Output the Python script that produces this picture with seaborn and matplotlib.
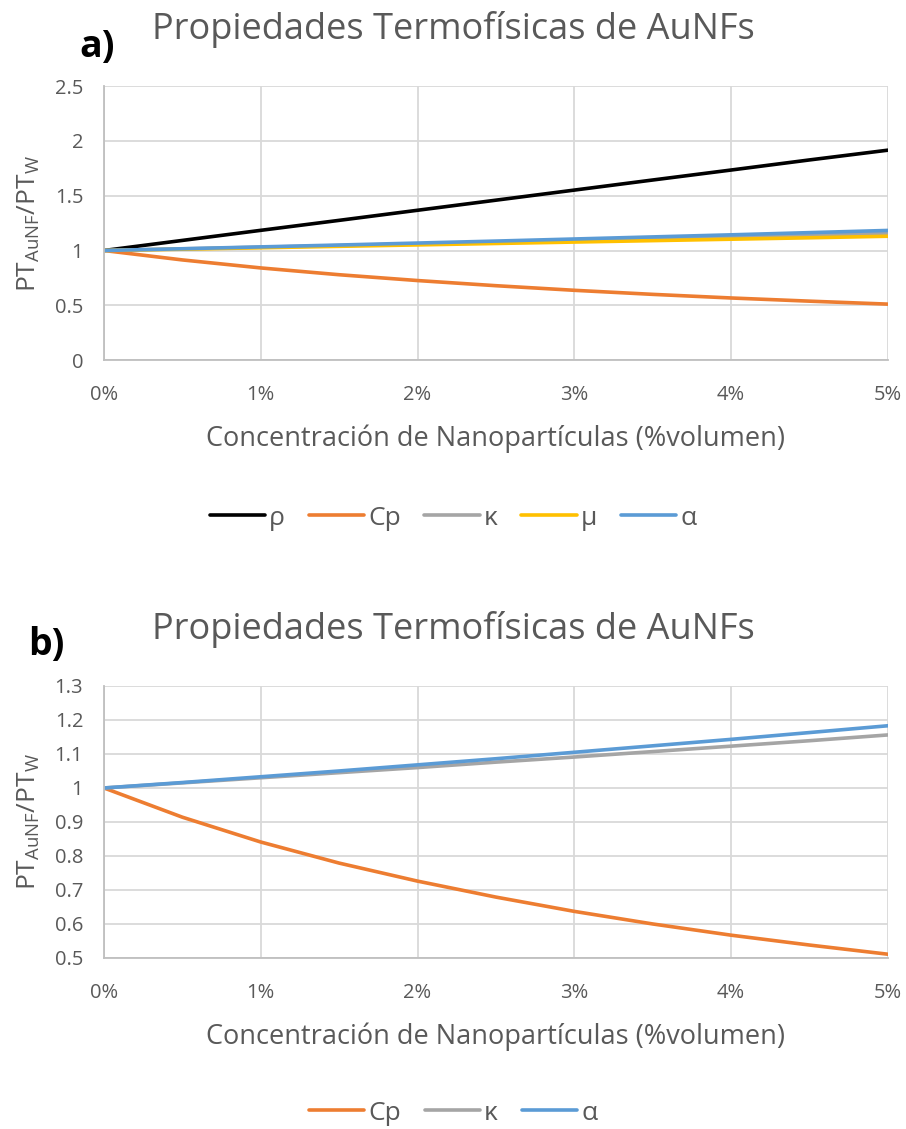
import numpy as np
import pandas as pd
from matplotlib import pyplot as plt
from matplotlib.lines import Line2D
import seaborn as sns

# concentracion (% volumen) y cocientes PT_AuNF / PT_W
conc = [0, 0.5, 1, 1.5, 2, 2.5, 3, 3.5, 4, 4.5, 5]
rho = [1.0, 1.092, 1.184, 1.275, 1.367, 1.459, 1.551, 1.643, 1.734, 1.826, 1.915]
cp = [1.0, 0.914, 0.841, 0.779, 0.726, 0.679, 0.637, 0.600, 0.567, 0.538, 0.511]
kappa = [1.0, 1.015, 1.030, 1.045, 1.060, 1.076, 1.091, 1.107, 1.123, 1.139, 1.156]
mu = [1.0, 1.012, 1.025, 1.038, 1.051, 1.064, 1.077, 1.090, 1.103, 1.116, 1.130]
alpha = [1.0, 1.016, 1.033, 1.050, 1.068, 1.086, 1.105, 1.124, 1.143, 1.163, 1.183]

names_a = ['ρ', 'Cp', 'κ', 'μ', 'α']
names_b = ['Cp', 'κ', 'α']
colores = {'ρ': '#000000', 'Cp': '#ED7D31', 'κ': '#A5A5A5', 'μ': '#FFC000', 'α': '#5B9BD5'}

df = pd.DataFrame({'conc': conc, 'ρ': rho, 'Cp': cp, 'κ': kappa, 'μ': mu, 'α': alpha})
largo = df.melt(id_vars='conc', var_name='prop', value_name='val')

sns.set_style('white')
plt.rcParams['font.family'] = ['Open Sans', 'DejaVu Sans']
gris = '#595959'

fig = plt.figure(figsize=(9.06, 11.29), dpi=100)
ax1 = fig.add_axes([0.1148, 0.681, 0.8652, 0.2428])
ax2 = fig.add_axes([0.1148, 0.1515, 0.8652, 0.2409])


def dibujar(ax, nombres, ylim, paso):
    d = largo[largo['prop'].isin(nombres)]
    sns.lineplot(data=d, x='conc', y='val', hue='prop', hue_order=nombres,
                 palette=colores, linewidth=2.6, ax=ax, legend=False)
    ax.set_xlim(0, 5)
    ax.set_ylim(*ylim)
    ax.set_xticks(range(6))
    ax.set_xticklabels([f'{i}%' for i in range(6)])
    yt = np.round(np.arange(ylim[0], ylim[1] + paso / 2, paso), 2)
    ax.set_yticks(yt)
    ax.set_yticklabels([f'{v:g}' for v in yt])
    ax.grid(True, color='#D9D9D9', linewidth=1.3)
    for s in ['top', 'right']:
        ax.spines[s].set_visible(False)
    for s in ['left', 'bottom']:
        ax.spines[s].set_color('#BFBFBF')
        ax.spines[s].set_linewidth(1.3)
    ax.tick_params(axis='both', colors=gris, labelsize=14.5, length=0)
    ax.tick_params(axis='y', pad=15)
    ax.tick_params(axis='x', pad=18)
    ax.set_xlabel('Concentración de Nanopartículas (%volumen)', fontsize=19.5, color=gris, labelpad=14)
    ax.set_ylabel(r'PT$_{\mathregular{AuNF}}$/PT$_{\mathregular{W}}$', fontsize=19, color=gris, labelpad=9)
    manijas = [Line2D([0], [0], color=colores[n], linewidth=2.6) for n in nombres]
    return manijas


h1 = dibujar(ax1, names_a, (0, 2.5), 0.5)
h2 = dibujar(ax2, names_b, (0.5, 1.3), 0.1)

fig.legend(h1, names_a, loc='center', bbox_to_anchor=(0.50, 1 - 518 / 1129), ncol=5,
           frameon=False, fontsize=19, labelcolor=gris, handlelength=2.1,
           handletextpad=0.15, columnspacing=0.9)
fig.legend(h2, names_b, loc='center', bbox_to_anchor=(0.50, 1 - 1113 / 1129), ncol=3,
           frameon=False, fontsize=19, labelcolor=gris, handlelength=2.1,
           handletextpad=0.15, columnspacing=0.9)

fig.text(0.50, 1 - 30 / 1129, 'Propiedades Termofísicas de AuNFs', ha='center', va='center',
         fontsize=26, color=gris)
fig.text(0.50, 1 - 630 / 1129, 'Propiedades Termofísicas de AuNFs', ha='center', va='center',
         fontsize=26, color=gris)
fig.text(0.088, 1 - 47 / 1129, 'a)', ha='left', va='center', fontsize=27, fontweight='bold', color='black')
fig.text(0.031, 1 - 645 / 1129, 'b)', ha='left', va='center', fontsize=27, fontweight='bold', color='black')

plt.savefig('out.png', dpi=100)
